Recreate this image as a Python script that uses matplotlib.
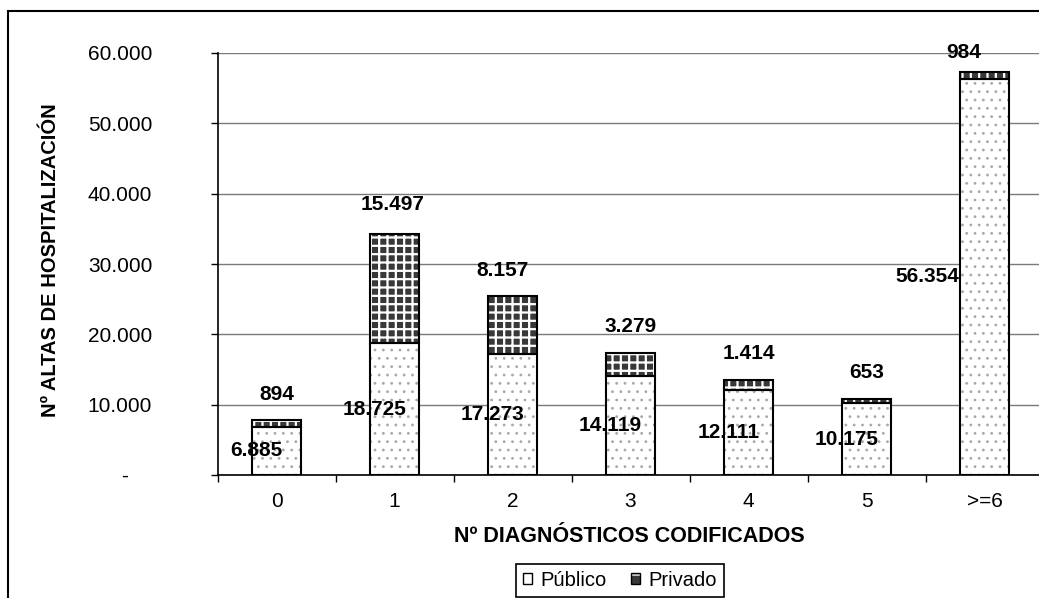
import numpy as np
import matplotlib
matplotlib.use("Agg")
import matplotlib.pyplot as plt
from matplotlib.patches import Patch, Rectangle
from matplotlib.legend_handler import HandlerTuple

# data
categorias = ["0", "1", "2", "3", "4", "5", ">=6"]
publico = [6885, 18725, 17273, 14119, 12111, 10175, 56354]
privado = [894, 15497, 8157, 3279, 1414, 653, 984]
yticks = [0, 10000, 20000, 30000, 40000, 50000, 60000]

# label nudges in pixels (the original labels were placed by hand)
pub_dx = [-20, -20, -20, -20, -20, -20, -57]
priv_dx = [0, -2, -10, 0, 0, 0, -21]
priv_dy = [26, 30, 26, 26, 26, 26, 19]

W, H = 1039, 598


def fx(px):
    return px / W


def fy(py):
    return 1 - py / H


def miles(v):
    return "-" if v == 0 else f"{v:,}".replace(",", ".")


plt.rcParams['font.family'] = ['Liberation Sans', 'DejaVu Sans']

fig = plt.figure(figsize=(W / 100, H / 100), dpi=100)
ax = fig.add_axes([fx(217.5), fy(475), 826 / W, 422 / H])

x = np.arange(len(categorias))
pub = np.array(publico)
priv = np.array(privado)
ancho = 0.41

with plt.rc_context({'hatch.linewidth': 0.8}):
    ax.bar(x, pub, width=ancho, color='white', edgecolor='#a8a8a8',
           hatch='..', linewidth=0, zorder=2)
with plt.rc_context({'hatch.linewidth': 1.6}):
    ax.bar(x, priv, bottom=pub, width=ancho, color='#383838',
           edgecolor='white', hatch='++', linewidth=0, zorder=2)
ax.bar(x, pub, width=ancho, fill=False, edgecolor='black', linewidth=1.5, zorder=3)
ax.bar(x, priv, bottom=pub, width=ancho, fill=False, edgecolor='black',
       linewidth=1.5, zorder=3)

# data labels
for i in range(len(x)):
    ax.annotate(miles(publico[i]), (x[i], pub[i] / 2),
                xytext=(pub_dx[i] * 0.72, 0), textcoords='offset points',
                ha='center', va='center', fontsize=15, fontweight='bold', zorder=5)
    ax.annotate(miles(privado[i]), (x[i], pub[i] + priv[i]),
                xytext=(priv_dx[i] * 0.72, priv_dy[i] * 0.72), textcoords='offset points',
                ha='center', va='center', fontsize=15, fontweight='bold', zorder=5,
                annotation_clip=False)

ax.set_xlim(-0.5, len(x) - 0.5)
ax.set_ylim(0, 60000)
ax.set_yticks(yticks, labels=[miles(v) + ("    " if v == 0 else "") for v in yticks])
ax.set_xticks(x, labels=categorias)
ax.set_xticks(np.arange(-0.5, len(x) - 0.4, 1), minor=True)

ax.tick_params(axis='y', direction='out', length=5, width=1, pad=42,
               labelsize=15, color='black')
ax.tick_params(axis='x', which='major', length=0, pad=12, labelsize=15)
ax.tick_params(axis='x', which='minor', direction='out', length=5, width=1)

ax.yaxis.grid(True, color='#7a7a7a', linewidth=1)
ax.set_axisbelow(True)
for s in ['top', 'right']:
    ax.spines[s].set_visible(False)
for s in ['left', 'bottom']:
    ax.spines[s].set_linewidth(1.2)
    ax.spines[s].set_color('black')

fig.text(fx(51), fy(260), "Nº ALTAS DE HOSPITALIZACIÓN", rotation=90,
         ha='center', va='center', fontsize=14.5, fontweight='bold')
fig.text(fx(629), fy(537), "Nº DIAGNÓSTICOS CODIFICADOS",
         ha='center', va='center', fontsize=15.5, fontweight='bold')

# legend
h_pub = Patch(facecolor='white', edgecolor='black', linewidth=1)
h_priv = (Patch(facecolor='#383838', edgecolor='white', hatch='+', linewidth=0),
          Patch(fill=False, edgecolor='black', linewidth=1))
leg = fig.legend([h_pub, h_priv], ["Público", "Privado"],
                 handler_map={tuple: HandlerTuple(ndivide=1)},
                 loc='upper center', bbox_to_anchor=(fx(620), fy(564)),
                 ncol=2, frameon=True, fancybox=False, edgecolor='black',
                 framealpha=1, handlelength=0.45, handleheight=0.45,
                 handletextpad=0.4, columnspacing=1.2, borderpad=0.35,
                 borderaxespad=0, fontsize=14.5)
leg.get_frame().set_linewidth(1.2)

# outer chart border (runs off the right and bottom edge like the original)
fig.patches.append(Rectangle((fx(8), fy(640)), (1080 - 8) / W, (640 - 10.5) / H,
                             transform=fig.transFigure, fill=False,
                             edgecolor='black', linewidth=1.5))

fig.savefig("out.png", dpi=100)
